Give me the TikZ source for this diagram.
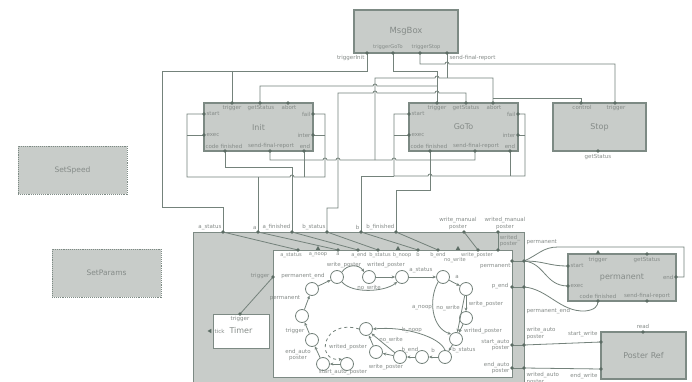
\documentclass[tikz,border=0pt]{standalone}
\usepackage{fontspec}
\setmainfont{DejaVu Sans}
\usetikzlibrary{arrows.meta,shapes.geometric}
\definecolor{bfill}{HTML}{C8CCC9}
\definecolor{bdraw}{HTML}{7D8A84}
\definecolor{pcol}{HTML}{5C6C64}
\definecolor{lcol}{HTML}{74827B}
\definecolor{tcol}{HTML}{858B88}
\tikzset{
  box/.style={draw=bdraw, fill=bfill, line width=1.1pt, inner sep=0, text=tcol, font=\fontsize{8}{9}\selectfont},
  dbox/.style={draw=bdraw, fill=bfill, densely dotted, line width=0.9pt, inner sep=0, text=tcol, font=\fontsize{7.5}{9}\selectfont},
  wbox/.style={draw=bdraw, fill=white, line width=0.9pt, inner sep=0, text=tcol, font=\fontsize{8}{9}\selectfont},
  port/.style={circle, fill=pcol, inner sep=0, minimum size=3.6pt},
  tri/.style={regular polygon, regular polygon sides=3, fill=pcol, inner sep=0, minimum size=5pt},
  lbl/.style={text=tcol, font=\fontsize{5.5}{6.3}\selectfont, inner sep=0.4pt},
  slbl/.style={lbl, font=\fontsize{5.1}{6}\selectfont},
  wire/.style={draw=lcol, line width=0.8pt},
  st/.style={circle, draw=lcol, fill=white, line width=0.8pt, minimum size=13pt, inner sep=0},
  ar/.style={wire, -{Stealth[length=3.5pt,width=3pt]}}
}
\newcommand{\hp}{arc[start angle=180,end angle=0,radius=2pt]}
\begin{document}
\begin{tikzpicture}[x=1pt,y=-1pt]
\useasboundingbox (0,0) rectangle (692,382);
\clip (0,0) rectangle (692,382);
\fill[white] (0,0) rectangle (692,382);

% ---------- boxes ----------
\node[dbox, minimum width=109pt, minimum height=48pt] (setspeed) at (72.5,170) {SetSpeed};
\node[dbox, minimum width=109pt, minimum height=48pt] (setparams) at (106.5,273) {SetParams};
\node[box, minimum width=104pt, minimum height=43pt, font=\fontsize{8.5}{9}\selectfont] (msgbox) at (406,31.5) {MsgBox};
\node[box, minimum width=109pt, minimum height=48pt] (init) at (258.5,127) {Init};
\node[box, minimum width=109pt, minimum height=48pt] (goto) at (463.5,127) {GoTo};
\node[box, minimum width=93pt, minimum height=48pt] (stop) at (599.5,127) {Stop};
\node[box, minimum width=331pt, minimum height=170pt, anchor=north west] (outer) at (193,232) {};
\node[wbox, minimum width=239pt, minimum height=127pt, anchor=north west] (inner) at (273,250) {};
\node[wbox, minimum width=56pt, minimum height=34pt] (timer) at (241,331) {Timer};
\node[box, minimum width=108pt, minimum height=47pt] (perm) at (622,277.5) {permanent};
\node[box, minimum width=85pt, minimum height=47pt] (poster) at (643.5,355.5) {Poster Ref};

% ---------- port coordinates ----------
\coordinate (m-ti) at (367,53); \coordinate (m-tg) at (393,53);
\coordinate (m-ts) at (420,53); \coordinate (m-sfr) at (447,53);
\coordinate (i-trigger) at (232,103); \coordinate (i-getstatus) at (260,103); \coordinate (i-abort) at (288,103);
\coordinate (i-start) at (204,114); \coordinate (i-exec) at (204,135);
\coordinate (i-fail) at (313,114); \coordinate (i-inter) at (313,135);
\coordinate (i-cf) at (225,151); \coordinate (i-sfr) at (270,151); \coordinate (i-end) at (304,151);
\coordinate (g-trigger) at (437,103); \coordinate (g-getstatus) at (466,103); \coordinate (g-abort) at (493,103);
\coordinate (g-start) at (409,114); \coordinate (g-exec) at (409,135);
\coordinate (g-fail) at (518,114); \coordinate (g-inter) at (518,135);
\coordinate (g-cf) at (430,151); \coordinate (g-sfr) at (475,151); \coordinate (g-end) at (510,151);
\coordinate (s-control) at (581,103); \coordinate (s-trigger) at (615,103); \coordinate (s-getstatus) at (598,151);
\coordinate (o-astatus) at (223,232); \coordinate (o-a) at (258,232); \coordinate (o-afin) at (292,232);
\coordinate (o-bstatus) at (327,232); \coordinate (o-b) at (361,232); \coordinate (o-bfin) at (396,232);
\coordinate (o-wm) at (464,232); \coordinate (o-wdm) at (498,232);
\coordinate (n-astatus) at (298,250); \coordinate (n-anoop) at (318,248.5); \coordinate (n-a) at (338,250);
\coordinate (n-aend) at (358,250); \coordinate (n-bstatus) at (378,250); \coordinate (n-bnoop) at (398,248.5);
\coordinate (n-b) at (418,250); \coordinate (n-bend) at (438,250); \coordinate (n-nowrite) at (458,248.5);
\coordinate (n-wp) at (478,250); \coordinate (n-wdp) at (498,250);
\coordinate (n-trigger) at (273,277);
\coordinate (n-perm) at (512,261); \coordinate (n-pend) at (512,287); \coordinate (n-sap) at (512,345); \coordinate (n-eap) at (512,368);
\coordinate (o-perm) at (524,261); \coordinate (o-pend) at (524,287); \coordinate (o-sap) at (524,345); \coordinate (o-eap) at (524,368);
\coordinate (t-trigger) at (240,314); \coordinate (t-tick) at (210,331);
\coordinate (p-trigger) at (598,252.5); \coordinate (p-getstatus) at (647,254);
\coordinate (p-start) at (568,266); \coordinate (p-exec) at (568,286); \coordinate (p-end) at (676,277);
\coordinate (p-cf) at (598,301); \coordinate (p-sfr) at (647,301);
\coordinate (pr-read) at (643,332); \coordinate (pr-start) at (601,342); \coordinate (pr-end) at (601,369);

% ---------- wires (upper part) ----------
\draw[wire] (m-ti) -- (367,71) -- (162,71) -- (162,207) -- (223,207) -- (o-astatus);
\draw[wire] (232,71) -- (i-trigger);
\draw[wire] (m-tg) -- (393,71) -- (437,71) -- (g-trigger);
\draw[wire] (i-getstatus) -- (260,86) -- (373,86) \hp -- (437,86);
\draw[wire] (m-sfr) -- (447,78);
\draw[wire] (375,160) -- (375,78) -- (435,78) \hp -- (493,78) -- (g-abort);
\draw[wire] (493,98) -- (581,98) -- (s-control);
\draw[wire] (m-ts) -- (420,64) -- (445,64) \hp -- (615,64) -- (s-trigger);
\draw[wire] (o-bstatus) -- (327,208) -- (338,208) -- (338,93) -- (373,93) \hp -- (435,93) \hp -- (466,93) -- (g-getstatus);
\draw[wire] (i-sfr) -- (270,160) -- (323,160) \hp -- (336,160) \hp -- (392,160) \hp -- (475,160) -- (g-sfr);
% Init loop
\draw[wire] (i-start) -- (187,114) -- (187,177) -- (290,177) \hp -- (325,177) -- (325,114) -- (i-fail);
\draw[wire] (i-exec) -- (187,135);
\draw[wire] (i-inter) -- (325,135);
\draw[wire] (i-end) -- (304,177);
\draw[wire] (o-a) -- (258,177);
\draw[wire] (i-cf) -- (225,167) -- (292,167) -- (o-afin);
% GoTo loop
\draw[wire] (g-start) -- (394,114) -- (394,176) -- (428,176) \hp -- (525,176) -- (525,114) -- (g-fail);
\draw[wire] (394,176) -- (361,176) -- (o-b);
\draw[wire] (g-exec) -- (394,135);
\draw[wire] (g-inter) -- (525,135);
\draw[wire] (g-end) -- (510,176);
\draw[wire] (g-cf) -- (430,190) -- (396,190) -- (o-bfin);

% outer to inner
\draw[wire] (o-astatus) -- (n-astatus);
\draw[wire] (o-a) -- (n-a);
\draw[wire] (o-afin) -- (n-aend);
\draw[wire] (o-bstatus) -- (n-bstatus);
\draw[wire] (o-b) -- (n-b);
\draw[wire] (o-bfin) -- (n-bend);
\draw[wire] (o-wm) -- (n-wp);
\draw[wire] (o-wdm) -- (n-wdp);
\draw[wire] (n-trigger) -- (t-trigger);
\draw[wire] (n-perm) -- (o-perm);
\draw[wire] (n-pend) -- (o-pend);
\draw[wire] (n-sap) -- (o-sap);
\draw[wire] (n-eap) -- (o-eap);
\draw[wire] (o-sap) -- (pr-start);
\draw[wire] (o-eap) -- (pr-end);
% to permanent
\draw[wire] (o-perm) .. controls (545,261) and (548,266) .. (p-start);
\draw[wire] (o-perm) .. controls (545,263) and (545,286) .. (p-exec);
\draw[wire] (o-perm) .. controls (538,255) and (543,247) .. (558,247) -- (684,247) -- (684,277) -- (p-end);
\draw[wire] (o-pend) .. controls (548,289) and (560,312) .. (585,311) .. controls (595,310) and (598,306) .. (p-cf);

% ---------- ports ----------
\foreach \p in {m-ti,m-tg,m-ts,m-sfr,
  i-trigger,i-getstatus,i-abort,i-start,i-exec,i-fail,i-inter,i-cf,i-sfr,i-end,
  g-trigger,g-getstatus,g-abort,g-start,g-exec,g-fail,g-inter,g-cf,g-sfr,g-end,
  s-control,s-trigger,s-getstatus,
  o-astatus,o-a,o-afin,o-bstatus,o-b,o-bfin,o-wm,o-wdm,
  n-astatus,n-a,n-aend,n-bstatus,n-b,n-bend,n-wp,n-wdp,n-trigger,
  n-perm,n-pend,n-sap,n-eap,o-perm,o-pend,o-sap,o-eap,
  t-trigger,p-getstatus,p-start,p-exec,p-end,p-cf,p-sfr,pr-read,pr-start,pr-end}
  {\node[port] (d-\p) at (\p) {};}
\node[tri] (d-anoop) at (n-anoop) {};
\node[tri] (d-bnoop) at (n-bnoop) {};
\node[tri] (d-nowrite) at (n-nowrite) {};
\node[tri] (d-ptrig) at (p-trigger) {};
\node[tri, shape border rotate=90] (d-tick) at (t-tick) {};

% ---------- labels ----------
\node[lbl, anchor=north east] (lm1) at (365,55) {triggerInit};
\node[slbl, anchor=south] (lm2) at (388,50.5) {triggerGoTo};
\node[slbl, anchor=south] (lm3) at (426,50.5) {triggerStop};
\node[lbl, anchor=north west] (lm4) at (449,55) {send-final-report};
% Init
\node[lbl, anchor=north] (li1) at (232,105) {trigger};
\node[lbl, anchor=north] (li2) at (261,105) {getStatus};
\node[lbl, anchor=north] (li3) at (289,105) {abort};
\node[lbl, anchor=west] (li4) at (206,114) {start};
\node[lbl, anchor=west] (li5) at (206,135) {exec};
\node[lbl, anchor=east] (li6) at (311,114) {fail};
\node[lbl, anchor=east] (li7) at (311,135) {inter};
\node[lbl, anchor=south west] (li8) at (205,149.5) {code finished};
\node[lbl, anchor=south] (li9) at (271,149.5) {send-final-report};
\node[lbl, anchor=south] (li10) at (305,149.5) {end};
% GoTo
\node[lbl, anchor=north] (lg1) at (437,105) {trigger};
\node[lbl, anchor=north] (lg2) at (466,105) {getStatus};
\node[lbl, anchor=north] (lg3) at (494,105) {abort};
\node[lbl, anchor=west] (lg4) at (411,114) {start};
\node[lbl, anchor=west] (lg5) at (411,135) {exec};
\node[lbl, anchor=east] (lg6) at (516,114) {fail};
\node[lbl, anchor=east] (lg7) at (516,135) {inter};
\node[lbl, anchor=south west] (lg8) at (410,149.5) {code finished};
\node[lbl, anchor=south] (lg9) at (476,149.5) {send-final-report};
\node[lbl, anchor=south] (lg10) at (510,149.5) {end};
% Stop
\node[lbl, anchor=north] (ls1) at (582,105) {control};
\node[lbl, anchor=north] (ls2) at (616,105) {trigger};
\node[lbl, anchor=north] (ls3) at (598,153.5) {getStatus};
% outer top
\node[lbl, anchor=south east] (lo1) at (222,230) {a\_status};
\node[lbl, anchor=south east] (lo2) at (257,230) {a};
\node[lbl, anchor=south east] (lo3) at (291,230) {a\_finished};
\node[lbl, anchor=south east] (lo4) at (326,230) {b\_status};
\node[lbl, anchor=south east] (lo5) at (360,230) {b};
\node[lbl, anchor=south east] (lo6) at (395,230) {b\_finished};
\node[lbl, anchor=south, align=center] (lo7) at (458,230) {write\_manual\\poster};
\node[lbl, anchor=south, align=center] (lo8) at (505,230) {writed\_manual\\poster};
\node[lbl, align=left] (lo9) at (510,241) {writed\_\\poster};
% inner top
\node[slbl, anchor=north] (ln1) at (291,252) {a\_status};
\node[slbl, anchor=north] (ln2) at (318,252) {a\_noop};
\node[slbl, anchor=north] (ln3) at (338,252) {a};
\node[slbl, anchor=north] (ln4) at (359,252) {a\_end};
\node[slbl, anchor=north] (ln5) at (380,252) {b\_status};
\node[slbl, anchor=north] (ln6) at (402,252) {b\_noop};
\node[slbl, anchor=north] (ln7) at (418,252) {b};
\node[slbl, anchor=north] (ln8) at (438,252) {b\_end};
\node[slbl, anchor=north] (ln9) at (455,257) {no\_write};
\node[slbl, anchor=north] (ln10) at (477,252) {write\_poster};
\node[lbl, anchor=east] (ln11) at (270,276) {trigger};
% inner right
\node[lbl, anchor=north east] (lr1) at (511,263) {permanent};
\node[lbl, anchor=east] (lr2) at (509,286) {p\_end};
\node[lbl, anchor=east, align=right] (lr3) at (510,345) {start\_auto\\poster};
\node[lbl, anchor=east, align=right] (lr4) at (510,368) {end\_auto\\poster};
% right wires
\node[lbl, anchor=south west] (lw1) at (526,245) {permanent};
\node[lbl, anchor=north west] (lw2) at (526,308) {permanent\_end};
\node[lbl, anchor=south west, align=left] (lw3) at (526,340) {write\_auto\\poster};
\node[lbl, anchor=north west, align=left] (lw4) at (526,372) {writed\_auto\\poster};
\node[lbl, anchor=south east] (lw5) at (598,337) {start\_write};
\node[lbl, anchor=north east] (lw6) at (598,373) {end\_write};
\node[lbl, anchor=south] (lw7) at (643,329.5) {read};
% permanent
\node[lbl, anchor=north] (lp1) at (598,256.5) {trigger};
\node[lbl, anchor=north] (lp2) at (647,256.5) {getStatus};
\node[lbl, anchor=west] (lp3) at (570,266) {start};
\node[lbl, anchor=west] (lp4) at (570,286) {exec};
\node[lbl, anchor=east] (lp5) at (674,277) {end};
\node[lbl, anchor=south] (lp6) at (598,299.5) {code finished};
\node[lbl, anchor=south] (lp7) at (647,299.5) {send-final-report};
% timer
\node[lbl, anchor=north] (lt1) at (240,316) {trigger};
\node[lbl, anchor=west] (lt2) at (214,331) {tick};

% ---------- state machine ----------
\node[st] (A) at (337,277) {};
\node[st] (B) at (369,277) {};
\node[st] (C) at (402,277) {};
\node[st] (D) at (443,277) {};
\node[st] (E) at (466,289) {};
\node[st] (F) at (466,318) {};
\node[st] (G) at (456,339) {};
\node[st] (H) at (445,357) {};
\node[st] (I) at (422,357) {};
\node[st] (J) at (400,357) {};
\node[st] (K) at (376,352) {};
\node[st] (L) at (366,329) {};
\node[st] (M) at (347,364) {};
\node[st] (N) at (323,364) {};
\node[st] (O) at (312,340) {};
\node[st] (P) at (302,316) {};
\node[st] (Q) at (312,289) {};

\draw[ar] (M) -- (N);
\draw[ar] (N) -- (O);
\draw[ar] (O) -- (P);
\draw[ar] (P) -- (Q);
\draw[ar] (Q) -- (A);
\draw[ar] (A.north east) .. controls (347,264) and (359,264) .. (B.north west);
\draw[ar] (A.south east) .. controls (352,294) and (385,292) .. (C.south west);
\draw[ar] (B) -- (C);
\draw[ar] (C) -- (D);
\draw[ar] (D) -- (E);
\draw[ar] (E) -- (F);
\draw[ar] (F) -- (G);
\draw[ar] (D.south west) .. controls (428,300) and (432,328) .. (G.north west);
\draw[ar] (E) -- (G);
\draw[ar] (G) -- (H);
\draw[ar] (H) -- (I);
\draw[ar] (I) -- (J);
\draw[ar] (J) -- (K);
\draw[ar] (J) -- (L);
\draw[ar] (K) -- (L);
\draw[ar] (H.north) .. controls (440,337) and (405,326) .. (L.east);
\draw[ar, dashed] (L.west) .. controls (322,318) and (315,362) .. (M.north west);

\node[lbl] (e1) at (303,276) {permanent\_end};
\node[lbl] (e2) at (285,298) {permanent};
\node[lbl] (e3) at (295,331) {trigger};
\node[lbl, align=center] (e4) at (298,355) {end\_auto\\poster};
\node[lbl] (e5) at (343,372.5) {start\_auto\_poster};
\node[lbl] (e6) at (348,347) {writed\_poster};
\node[lbl] (e7) at (344,265) {write\_poster};
\node[lbl] (e8) at (369,288.5) {no\_write};
\node[lbl] (e9) at (386,265) {writed\_poster};
\node[lbl] (e10) at (421,270) {a\_status};
\node[lbl] (e11) at (457,277) {a};
\node[lbl] (e12) at (486,304) {write\_poster};
\node[lbl] (e13) at (483,331) {writed\_poster};
\node[lbl] (e14) at (422,308) {a\_noop};
\node[lbl] (e15) at (448,308) {no\_write};
\node[lbl] (e16) at (464,350) {b\_status};
\node[lbl] (e17) at (433,350) {b};
\node[lbl] (e18) at (410,350) {b\_end};
\node[lbl] (e19) at (386,367) {write\_poster};
\node[lbl] (e20) at (391,340) {no\_write};
\node[lbl] (e21) at (412,330) {b\_noop};
\end{tikzpicture}
\end{document}
